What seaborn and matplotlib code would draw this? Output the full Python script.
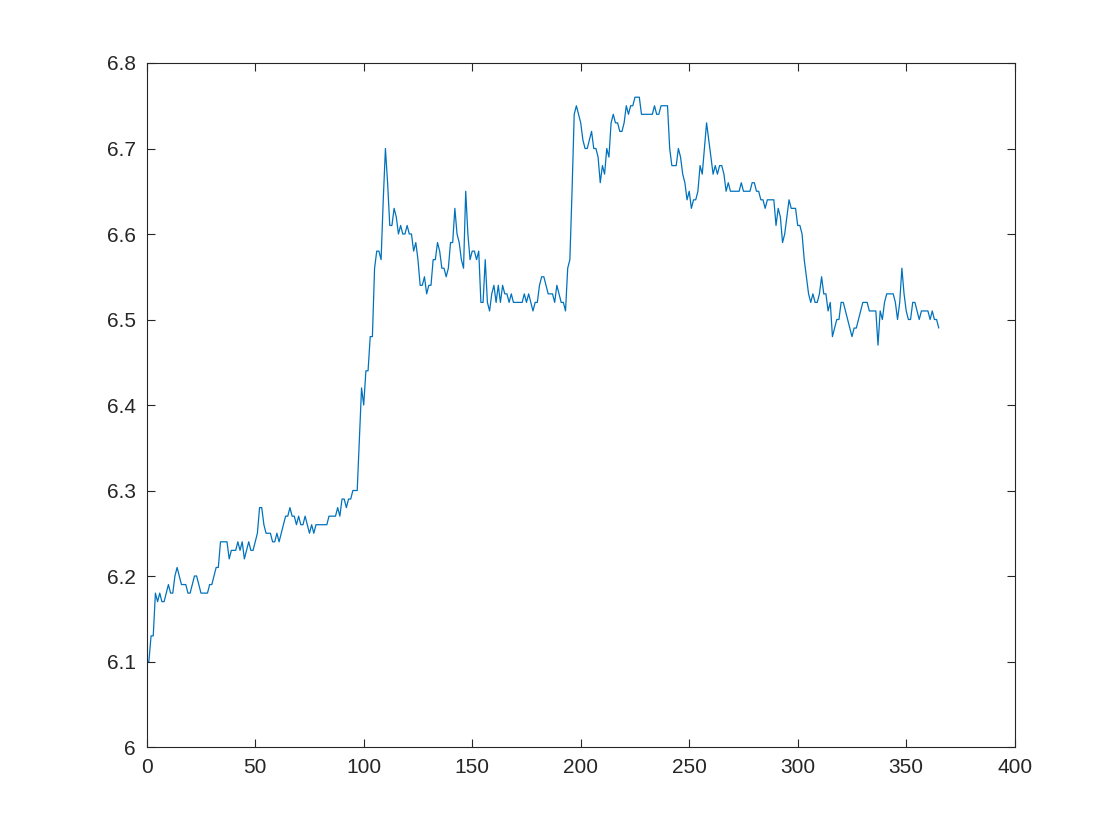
import numpy as np
import pandas as pd
import matplotlib
matplotlib.use("Agg")
import matplotlib.pyplot as plt
import seaborn as sns

# values, one per day (x = 0..365)
vals_a = [6.10, 6.10, 6.13, 6.13, 6.18, 6.17, 6.18, 6.17, 6.17, 6.18, 6.19,
          6.18, 6.18, 6.20, 6.21, 6.20, 6.19, 6.19, 6.19, 6.18, 6.18,
          6.19, 6.20, 6.20, 6.19, 6.18, 6.18, 6.18, 6.18, 6.19, 6.19,
          6.20, 6.21, 6.21, 6.24, 6.24, 6.24, 6.24, 6.22, 6.23, 6.23,
          6.23, 6.24, 6.23, 6.24, 6.22, 6.23, 6.24, 6.23, 6.23, 6.24,
          6.25, 6.28, 6.28, 6.26, 6.25, 6.25, 6.25, 6.24, 6.24, 6.25,
          6.24, 6.25, 6.26, 6.27, 6.27, 6.28, 6.27, 6.27, 6.26, 6.27,
          6.26, 6.26, 6.27, 6.26, 6.25, 6.26, 6.25, 6.26, 6.26, 6.26,
          6.26, 6.26, 6.26, 6.27, 6.27, 6.27, 6.27, 6.28, 6.27, 6.29,
          6.29, 6.28, 6.29, 6.29, 6.30, 6.30, 6.30, 6.36, 6.42, 6.40]
vals_b = [6.44, 6.44, 6.48, 6.48, 6.56, 6.58, 6.58, 6.57, 6.64, 6.70,
          6.66, 6.61, 6.61, 6.63, 6.62, 6.60, 6.61, 6.60, 6.60, 6.61,
          6.60, 6.60, 6.58, 6.59, 6.57, 6.54, 6.54, 6.55, 6.53, 6.54,
          6.54, 6.57, 6.57, 6.59, 6.58, 6.56, 6.56, 6.55, 6.56, 6.59,
          6.59, 6.63, 6.60, 6.59, 6.57, 6.56, 6.65, 6.60, 6.57, 6.58,
          6.58, 6.57, 6.58, 6.52, 6.52, 6.57, 6.52, 6.51, 6.53, 6.54,
          6.52, 6.54, 6.52, 6.54, 6.53, 6.53, 6.52, 6.53, 6.52, 6.52,
          6.52, 6.52, 6.52, 6.53, 6.52, 6.53, 6.52, 6.51, 6.52, 6.52,
          6.54, 6.55, 6.55, 6.54, 6.53, 6.53, 6.53, 6.52, 6.54, 6.53,
          6.52, 6.52, 6.51, 6.56, 6.57, 6.65, 6.74, 6.75, 6.74, 6.73]
vals_c = [6.71, 6.70, 6.70, 6.71, 6.72, 6.70, 6.70, 6.69, 6.66, 6.68,
          6.67, 6.70, 6.69, 6.73, 6.74, 6.73, 6.73, 6.72, 6.72, 6.73,
          6.75, 6.74, 6.75, 6.75, 6.76, 6.76, 6.76, 6.74, 6.74, 6.74,
          6.74, 6.74, 6.74, 6.75, 6.74, 6.74, 6.75, 6.75, 6.75, 6.75,
          6.70, 6.68, 6.68, 6.68, 6.70, 6.69, 6.67, 6.66, 6.64, 6.65,
          6.63, 6.64, 6.64, 6.65, 6.68, 6.67, 6.70, 6.73, 6.71, 6.69,
          6.67, 6.68, 6.67, 6.68, 6.68, 6.67, 6.65, 6.66, 6.65, 6.65,
          6.65, 6.65, 6.65, 6.66, 6.65, 6.65, 6.65, 6.65, 6.66, 6.66,
          6.65, 6.65, 6.64, 6.64, 6.63, 6.64, 6.64, 6.64, 6.64, 6.61,
          6.63, 6.62, 6.59, 6.60, 6.62, 6.64, 6.63, 6.63, 6.63, 6.61]
vals_d = [6.61, 6.60, 6.57, 6.55, 6.53, 6.52, 6.53, 6.52, 6.52, 6.53,
          6.55, 6.53, 6.53, 6.51, 6.52, 6.48, 6.49, 6.50, 6.50, 6.52,
          6.52, 6.51, 6.50, 6.49, 6.48, 6.49, 6.49, 6.50, 6.51, 6.52,
          6.52, 6.52, 6.51, 6.51, 6.51, 6.51, 6.47, 6.51, 6.50, 6.52,
          6.53, 6.53, 6.53, 6.53, 6.52, 6.50, 6.52, 6.56, 6.53, 6.51,
          6.50, 6.50, 6.52, 6.52, 6.51, 6.50, 6.51, 6.51, 6.51, 6.51,
          6.50, 6.51, 6.50, 6.50, 6.49]

values = vals_a + vals_b + vals_c + vals_d
days = list(range(len(values)))

df = pd.DataFrame({"day": days, "value": values})

sns.set_style("ticks")
plt.rcParams["font.family"] = ["Liberation Sans", "DejaVu Sans"]

fig = plt.figure(figsize=(11.2, 8.4), dpi=100)
ax = fig.add_axes([0.131, 0.1107, 0.775, 0.8143])

sns.lineplot(data=df, x="day", y="value", ax=ax, color="#0072BD", linewidth=0.9)

ax.set_xlim(0, 400)
ax.set_ylim(6, 6.8)
ax.set_xticks(np.arange(0, 401, 50))
ax.set_yticks(np.round(np.arange(6.0, 6.81, 0.1), 1))
ax.set_yticklabels(["6", "6.1", "6.2", "6.3", "6.4", "6.5", "6.6", "6.7", "6.8"])
ax.set_xlabel("")
ax.set_ylabel("")

for s in ax.spines.values():
    s.set_visible(True)
    s.set_color("#262626")
    s.set_linewidth(0.8)
ax.tick_params(direction="in", length=6, width=0.8, color="#262626",
               labelcolor="#262626", labelsize=15, top=True, right=True, pad=8)

fig.savefig("out.png", dpi=100)
